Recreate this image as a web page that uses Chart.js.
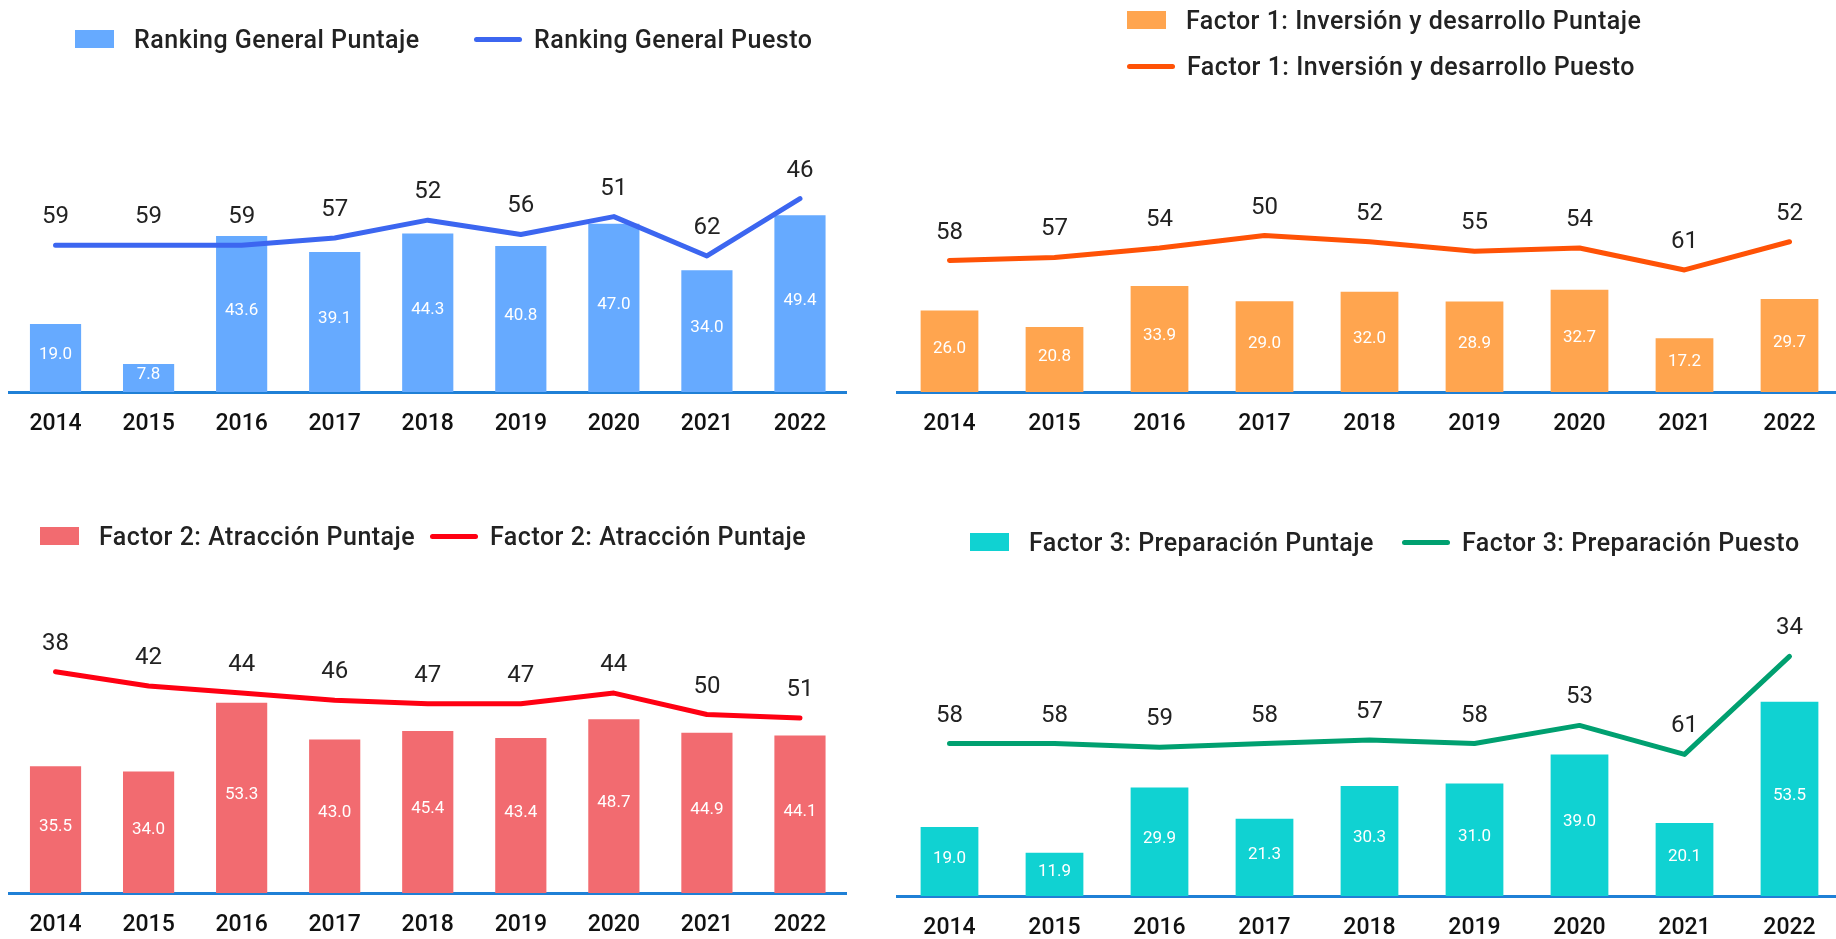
<!DOCTYPE html>
<html>
<head>
<meta charset="utf-8">
<script src="https://cdn.jsdelivr.net/npm/chart.js@4.4.0/dist/chart.umd.min.js"></script>
<style>
  html, body { margin: 0; padding: 0; background: #fff; overflow: hidden; }
  body { width: 1836px; height: 939px; position: relative; font-family: Roboto, sans-serif; }
  canvas { position: absolute; }
  .leg { position: absolute; display: flex; align-items: center; height: 30px; font: 500 25px Roboto, sans-serif; letter-spacing: 0.5px; color: #222; white-space: nowrap; }
  .box { display: inline-block; width: 39px; height: 18px; margin-right: 20px; }
  .ln { display: inline-block; width: 48px; height: 5px; border-radius: 3px; margin-right: 12px; }
</style>
</head>
<body>
<canvas id="c1" width="870" height="438" style="left:0;top:0"></canvas>
<canvas id="c2" width="970" height="438" style="left:880px;top:0"></canvas>
<canvas id="c3" width="870" height="469" style="left:0;top:470px"></canvas>
<canvas id="c4" width="970" height="472" style="left:880px;top:470px"></canvas>

<div class="leg" style="left:75px;top:24px"><span class="box" style="background:#66aaff"></span>Ranking General Puntaje</div>
<div class="leg" style="left:474px;top:24px"><span class="ln" style="background:#3c66f0"></span>Ranking General Puesto</div>
<div class="leg" style="left:1127px;top:5px"><span class="box" style="background:#ffa54f"></span>Factor 1: Inversión y desarrollo Puntaje</div>
<div class="leg" style="left:1127px;top:51px"><span class="ln" style="background:#ff5206"></span>Factor 1: Inversión y desarrollo Puesto</div>
<div class="leg" style="left:40px;top:521px"><span class="box" style="background:#f26b70"></span>Factor 2: Atracción Puntaje</div>
<div class="leg" style="left:430px;top:521px"><span class="ln" style="background:#ff0012"></span>Factor 2: Atracción Puntaje</div>
<div class="leg" style="left:970px;top:527px"><span class="box" style="background:#10d2d2"></span>Factor 3: Preparación Puntaje</div>
<div class="leg" style="left:1402px;top:527px"><span class="ln" style="background:#00a070"></span>Factor 3: Preparación Puesto</div>

<script>
const years = ["2014", "2015", "2016", "2017", "2018", "2019", "2020", "2021", "2022"];

const generalPuntaje = [19.0, 7.8, 43.6, 39.1, 44.3, 40.8, 47.0, 34.0, 49.4];
const generalPuesto = [59, 59, 59, 57, 52, 56, 51, 62, 46];

const inversionPuntaje = [26.0, 20.8, 33.9, 29.0, 32.0, 28.9, 32.7, 17.2, 29.7];
const inversionPuesto = [58, 57, 54, 50, 52, 55, 54, 61, 52];

const atraccionPuntaje = [35.5, 34.0, 53.3, 43.0, 45.4, 43.4, 48.7, 44.9, 44.1];
const atraccionPuesto = [38, 42, 44, 46, 47, 47, 44, 50, 51];

const preparacionPuntaje = [19.0, 11.9, 29.9, 21.3, 30.3, 31.0, 39.0, 20.1, 53.5];
const preparacionPuesto = [58, 58, 59, 58, 57, 58, 53, 61, 34];

// etiquetas de valores (barras: blanco centrado, linea: encima del punto)
const valueLabels = {
  id: "valueLabels",
  afterDatasetsDraw(chart) {
    const ctx = chart.ctx;
    chart.data.datasets.forEach((ds, i) => {
      const meta = chart.getDatasetMeta(i);
      meta.data.forEach((el, j) => {
        const v = ds.data[j];
        ctx.save();
        ctx.textAlign = "center";
        ctx.textBaseline = "middle";
        if (ds.type === "bar") {
          ctx.font = "400 17px Roboto";
          ctx.fillStyle = "#ffffff";
          ctx.fillText(v.toFixed(1), el.x, (el.y + el.base) / 2 - 3);
        } else {
          ctx.font = "400 24px Roboto";
          ctx.fillStyle = "#222222";
          ctx.fillText(String(v), el.x, el.y - 28);
        }
        ctx.restore();
      });
    });
  },
};

const makeChart = (id, puntaje, puesto, barColor, lineColor, pad) => {
  return new Chart(document.getElementById(id), {
    data: {
      labels: years,
      datasets: [
        {
          type: "line",
          label: "Puesto",
          data: puesto,
          yAxisID: "y2",
          borderColor: lineColor,
          borderWidth: 5,
          pointRadius: 0,
          tension: 0,
          borderCapStyle: "round",
          borderJoinStyle: "round",
          order: 0,
        },
        {
          type: "bar",
          label: "Puntaje",
          data: puntaje,
          yAxisID: "y",
          backgroundColor: barColor,
          barPercentage: 0.55,
          categoryPercentage: 1,
          order: 1,
        },
      ],
    },
    options: {
      responsive: false,
      animation: false,
      layout: { padding: pad },
      plugins: { legend: { display: false }, tooltip: { enabled: false } },
      scales: {
        x: {
          z: 1,
          grid: { display: false, drawTicks: false },
          border: { display: true, color: "#1f80d6", width: 3 },
          ticks: { color: "#111", padding: 18, font: { family: "Roboto", size: 23, weight: "500" } },
          afterFit: (s) => { s.height = 46; },
        },
        y: { display: false, min: 0, max: 100 },
        y2: { display: false, min: 0, max: 100, reverse: true },
      },
    },
    plugins: [valueLabels],
  });
};

makeChart("c1", generalPuntaje, generalPuesto, "#66aaff", "#3c66f0", { left: 9, right: 23.5, top: 34, bottom: 0 });
makeChart("c2", inversionPuntaje, inversionPuesto, "#ffa54f", "#ff5206", { left: 17, right: 8, top: 79, bottom: 0 });
makeChart("c3", atraccionPuntaje, atraccionPuesto, "#f26b70", "#ff0012", { left: 9, right: 23.5, top: 66, bottom: 0 });
makeChart("c4", preparacionPuntaje, preparacionPuesto, "#10d2d2", "#00a070", { left: 17, right: 8, top: 63, bottom: 0 });
</script>
</body>
</html>
